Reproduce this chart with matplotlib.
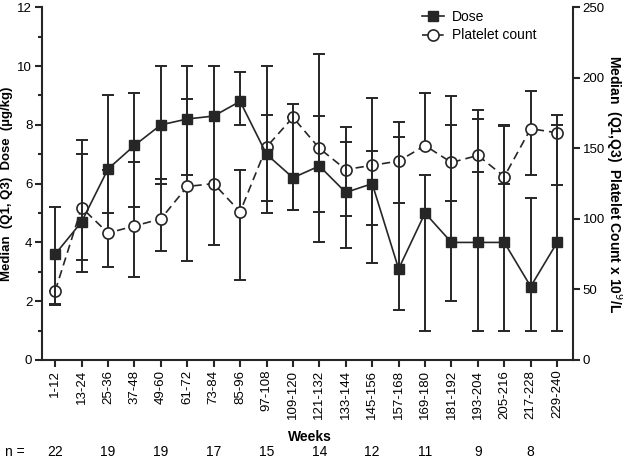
import matplotlib
matplotlib.use("Agg")
import matplotlib.pyplot as plt
from matplotlib.ticker import MultipleLocator
from matplotlib.transforms import blended_transform_factory
import numpy as np

plt.rcParams['font.family'] = ['Liberation Sans', 'DejaVu Sans']

weeks = ['1-12', '13-24', '25-36', '37-48', '49-60', '61-72', '73-84', '85-96',
         '97-108', '109-120', '121-132', '133-144', '145-156', '157-168', '169-180',
         '181-192', '193-204', '205-216', '217-228', '229-240']

# dose, ug/kg (median, Q1, Q3)
dose = [3.6, 4.7, 6.5, 7.3, 8.0, 8.2, 8.3, 8.8, 7.0, 6.2,
        6.6, 5.7, 6.0, 3.1, 5.0, 4.0, 4.0, 4.0, 2.5, 4.0]
dose_q1 = [1.9, 3.0, 5.0, 5.2, 6.0, 6.3, 3.9, 8.0, 5.0, 5.1,
           4.0, 3.8, 3.3, 1.7, 1.0, 2.0, 1.0, 1.0, 1.0, 1.0]
dose_q3 = [5.2, 7.5, 9.0, 9.1, 10.0, 10.0, 10.0, 9.8, 10.0, 8.7,
           10.4, 7.4, 8.9, 7.6, 6.3, 8.0, 8.2, 8.0, 5.5, 8.0]

# platelet count x 10^9/L (median, Q1, Q3)
plt_med = [49, 108, 90, 95, 100, 123, 125, 105, 151, 172,
           150, 135, 138, 141, 152, 140, 145, 130, 164, 161]
plt_q1 = [39, 71, 66, 59, 77, 70, 125, 57, 113, 106,
          105, 102, 96, 111, 150, 113, 133, 125, 131, 124]
plt_q3 = [49, 146, 135, 140, 128, 185, 125, 135, 174, 172,
          173, 165, 148, 169, 189, 187, 177, 166, 191, 174]

n_pos = [0, 2, 4, 6, 8, 10, 12, 14, 16, 18]
n_vals = [22, 19, 19, 17, 15, 14, 12, 11, 9, 8]

col = '#262626'
x = np.arange(len(weeks))

fig = plt.figure(figsize=(6.23, 4.62), dpi=100)
ax = fig.add_axes([0.0674, 0.2208, 0.8523, 0.7634])
ax2 = ax.twinx()

# dose on left axis
ax.errorbar(x, dose, yerr=[np.array(dose) - np.array(dose_q1), np.array(dose_q3) - np.array(dose)],
            fmt='none', ecolor=col, elinewidth=1.4, capsize=4.5, capthick=1.4, zorder=2)
ax.plot(x, dose, '-', color=col, lw=1.2, marker='s', markersize=7.5,
        markerfacecolor=col, markeredgecolor=col, zorder=4)

# platelets on right axis
ax2.errorbar(x, plt_med, yerr=[np.array(plt_med) - np.array(plt_q1), np.array(plt_q3) - np.array(plt_med)],
             fmt='none', ecolor=col, elinewidth=1.4, capsize=4.5, capthick=1.4, zorder=2)
ax2.plot(x, plt_med, '--', color=col, lw=1.2, dashes=(5, 3), marker='o', markersize=8,
         markerfacecolor='white', markeredgecolor=col, markeredgewidth=1.2, zorder=4)

ax.set_xlim(-0.5, 19.6)
ax.set_ylim(0, 12)
ax2.set_ylim(0, 250)

ax.yaxis.set_major_locator(MultipleLocator(2))
ax.yaxis.set_minor_locator(MultipleLocator(1))
ax2.yaxis.set_major_locator(MultipleLocator(50))

ax.set_xticks(x)
ax.set_xticklabels(weeks, rotation=90, fontsize=9)

for a in (ax, ax2):
    a.spines['top'].set_visible(False)
    for s in a.spines.values():
        s.set_linewidth(1.5)
        s.set_color(col)
    a.tick_params(axis='both', which='major', length=5, width=1.5, color=col, labelsize=9.5, pad=2)
    a.tick_params(axis='y', which='minor', length=3, width=1.5, color=col)
ax.spines['right'].set_visible(False)
ax2.spines['left'].set_visible(False)
ax2.spines['bottom'].set_visible(False)

ax.set_ylabel('Median  (Q1, Q3)  Dose  (µg/kg)', fontsize=9.5, fontweight='bold', labelpad=3)
ax2.set_ylabel('Median  (Q1,Q3)  Platelet Count x 10$^9$/L', fontsize=10, fontweight='bold',
               rotation=-90, labelpad=14)

fig.text(310 / 623, 1 - 437 / 462, 'Weeks', ha='center', va='center', fontsize=10, fontweight='bold')
fig.text(5 / 623, 1 - 452 / 462, 'n =', ha='left', va='center', fontsize=10)
n_tr = blended_transform_factory(ax.transData, fig.transFigure)
for p, n in zip(n_pos, n_vals):
    ax.text(p, 1 - 452 / 462, str(n), transform=n_tr, ha='center', va='center', fontsize=10)

h1 = ax.lines[-1]
h2 = ax2.lines[-1]
ax.legend([h1, h2], ['Dose', 'Platelet count'], loc='upper left',
          bbox_to_anchor=(416 / 623, 1 - 4 / 462), bbox_transform=fig.transFigure,
          frameon=False, fontsize=10, handlelength=1.6, handletextpad=0.6,
          labelspacing=0.35, borderaxespad=0)
ax.set_zorder(ax2.get_zorder() + 1)
ax.patch.set_visible(False)

fig.savefig('out.png', dpi=100)
